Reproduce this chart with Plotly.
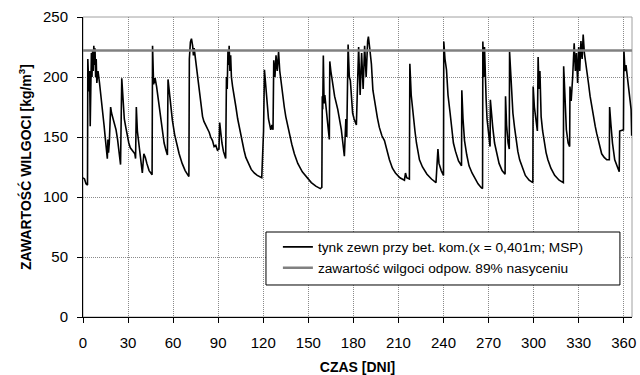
import plotly.graph_objects as go

days = [0, 1, 2, 3, 3.2, 3.6, 4.0, 4.4, 4.8, 5.2, 5.6, 6.0, 6.4, 6.8, 7.2, 7.6, 8.0, 8.4, 8.8, 9.2, 10, 11, 12, 13, 14, 15,
        16.2, 16.6, 17, 17.5, 18.4, 19, 20, 21, 22, 23, 24, 25, 25.8, 26.5, 27.5, 28.5, 29.5, 30.5, 31.5, 33, 34.5, 35,
        35.5, 36.2, 37, 38, 39.5, 40.5, 41.5, 42.5, 44, 46, 46.3, 47, 48, 49, 50, 51, 52, 53, 54, 55, 56.2, 56.6, 57.5,
        58.5, 59.5, 61, 62.5, 64, 66, 68, 70.5, 70.8, 71.5, 72.2, 73, 73.5, 74, 75, 76, 77, 78, 79.6, 80.5, 81.8, 83, 84,
        85, 86.2, 87.3, 88.4, 89.5, 90.5, 91, 91.5, 92.5, 93.5, 95, 95.5, 96, 96.5, 97, 97.3, 97.8, 98.3, 98.8, 99.6,
        100.5, 101.8, 103, 104, 105, 106, 107.2, 108.4, 110, 112, 114, 116, 119, 120.2, 120.8, 121.5, 122.5, 123.5, 125,
        125.8, 126.5, 127, 127.8, 128.5, 129.3, 130.2, 131, 132.9, 134, 135, 137.3, 139, 140.7, 143, 146, 149, 152, 155,
        158, 159, 159.3, 159.6, 160, 160.5, 161, 162, 163, 164, 164.3, 165, 166, 167.5, 169.6, 171, 172, 173, 174, 175,
        175.6, 176.5, 177.3, 178, 179.5, 180.5, 182, 183.5, 184.5, 185.5, 186.5, 187.5, 188.5, 189.5, 190, 190.8, 192,
        193, 194, 195, 196, 197.3, 199, 200.7, 202.5, 204, 206, 208, 211, 214, 214.7, 215.5, 217.3, 217.6, 218.5, 219.6,
        221, 222, 224, 226, 229, 232, 235, 236.3, 237, 238.5, 240, 240.2, 241, 242, 243, 244.4, 245.5, 246.6, 248, 250,
        252, 252.2, 253, 254, 255.5, 257, 259, 261, 263, 265, 266, 266.2, 266.8, 267.3, 267.8, 268.4, 269, 269.6, 270.5,
        271, 271.2, 272, 272.8, 274, 275.5, 277, 279, 281, 281.3, 282, 283, 283.8, 284, 284.8, 285.5, 286.2, 287.3,
        288.4, 289.5, 290.7, 292.5, 294.5, 297, 299.5, 299.7, 300.5, 301.5, 302.5, 303, 303.6, 304.2, 305, 306, 307,
        308.3, 309.5, 311.5, 314, 317, 319.8, 320, 321, 321.8, 323, 324, 324.2, 325, 326, 327, 327.8, 328.5, 329.3, 330,
        330.7, 331.5, 332.3, 333, 333.8, 334.5, 335.3, 336.5, 337.6, 338.7, 339.8, 341, 342, 343.5, 345.3, 347, 348.7,
        350.4, 350.6, 351.5, 352.5, 354, 355.5, 357, 357.3, 359.8, 360.1, 360.8, 361.5, 362.8, 363.8, 364.9, 365.3]

moisture = [116, 115, 111, 110, 215, 190, 188, 205, 159, 190, 220, 200, 222, 205, 226, 210, 224, 200, 215, 195, 205, 195,
            185, 175, 160, 147, 132, 148, 137, 145, 175, 170, 166, 160, 156, 148, 138, 127, 199, 180, 165, 158, 150, 145,
            141, 138, 136, 132, 175, 155, 145, 136, 120, 136, 133, 128, 122, 118.5, 226, 194, 199, 192, 182, 172, 162,
            152, 145, 140, 135, 198, 187, 175, 164, 152, 143, 136, 128, 122, 117, 215, 229, 232, 226, 218, 224, 214, 206,
            195, 184, 167, 163, 160, 156, 154, 150, 147, 142, 143, 139, 140, 162, 155, 145, 138, 132, 200, 190, 222, 210,
            226, 205, 218, 200, 192, 183, 175, 165, 158, 151, 145, 139, 133, 128, 123, 120, 118, 116, 155, 206, 195, 180,
            165, 156, 160, 156, 214, 200, 218, 205, 221, 205, 184, 175, 167, 153, 144, 136, 128, 121, 116, 112, 109, 107,
            108, 184, 173, 218, 178, 185, 170, 160, 148, 213, 205, 197, 184, 173, 163, 156, 145, 134, 165, 150, 227, 200,
            197, 170, 165, 160, 225, 185, 220, 190, 226, 200, 230, 233.6, 225, 211, 189, 180, 175, 166, 158, 151, 147, 138,
            131, 124, 120, 116, 114, 120, 116, 115, 211, 185, 170, 155, 145, 131, 125, 119, 115, 112, 140, 128, 122, 118,
            229.5, 215, 206, 185, 170, 155, 145, 138, 130, 126, 189, 165, 147, 135, 126, 120, 115, 111, 108, 107, 229.5,
            200, 225, 190, 181, 165, 156, 145, 142, 181, 165, 158, 145, 135, 128, 122, 119, 184, 160, 145, 140, 221, 200,
            185, 170, 158, 147, 138, 131, 124, 118, 114, 112, 192, 175, 165, 155, 216.7, 190, 205, 167, 155, 145, 137, 131,
            124, 118, 114, 112, 209, 180, 156, 145, 142, 192, 180, 200, 228, 205, 220, 195, 225, 205, 230, 215, 235.3, 220,
            212, 206, 195, 184, 175, 167, 159, 153, 144, 136, 133, 131, 131, 175, 160, 145, 131, 125, 121, 155, 156, 223,
            205, 210, 197, 185, 173, 151]

sat_days = [0, 365.5]
sat_level = [222, 222]

x_ticks = list(range(0, 361, 30))
y_ticks = [0, 50, 100, 150, 200, 250]

series_name = "tynk zewn przy bet. kom.(x = 0,401m; MSP)"
sat_name = "zawartość wilgoci odpow. 89% nasyceniu"

FONT = "Liberation Sans, Arial, sans-serif"

fig = go.Figure()
fig.add_trace(go.Scatter(x=days, y=moisture, mode="lines", name=series_name,
                         line=dict(color="black", width=1.6)))
fig.add_trace(go.Scatter(x=sat_days, y=sat_level, mode="lines", name=sat_name,
                         line=dict(color="#808080", width=2.5)))

# legend box
fig.add_shape(type="rect", xref="paper", yref="paper", x0=0.3333, x1=0.978, y0=0.1067, y1=0.2833,
              line=dict(color="black", width=1), fillcolor="white", layer="above")
# plot frame (top / right)
fig.add_shape(type="rect", xref="paper", yref="paper", x0=0, x1=1, y0=0, y1=1,
              line=dict(color="#a0a0a0", width=1), fillcolor="rgba(0,0,0,0)", layer="below")

fig.update_layout(
    width=640, height=375,
    margin=dict(l=83, r=8, t=17, b=58),
    paper_bgcolor="white", plot_bgcolor="white",
    font=dict(family=FONT, size=15, color="black"),
    showlegend=True,
    legend=dict(x=0.355, y=0.285, xanchor="left", yanchor="top", bgcolor="rgba(0,0,0,0)",
                borderwidth=0, font=dict(size=13.7, family=FONT), itemwidth=30, tracegroupgap=0),
    xaxis=dict(range=[0, 365.5], tickvals=x_ticks, ticks="outside", ticklen=5, tickcolor="black",
               ticklabelstandoff=7, automargin=False,
               showgrid=True, gridcolor="#8a8a8a", griddash="1px,1px", gridwidth=1,
               showline=True, linecolor="black", linewidth=1, zeroline=False,
               title=dict(text="<b>CZAS [DNI]</b>", font=dict(size=14), standoff=13)),
    yaxis=dict(range=[0, 250], tickvals=y_ticks, ticks="outside", ticklen=5, tickcolor="black",
               ticklabelstandoff=6, automargin=False,
               showgrid=True, gridcolor="#8a8a8a", griddash="1px,1px", gridwidth=1,
               showline=True, linecolor="black", linewidth=1, zeroline=False,
               title=dict(text="<b>ZAWARTOŚĆ WILGOCI [kg/m<sup>3</sup>]</b>", font=dict(size=14), standoff=8)),
)

fig.write_html("out.html")
